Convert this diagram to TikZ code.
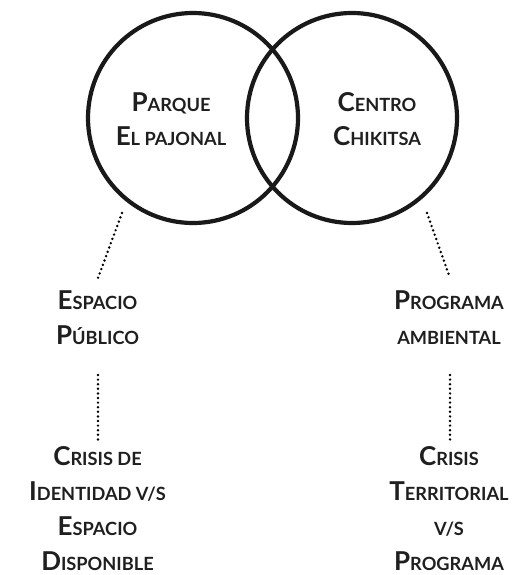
\documentclass[tikz,border=0pt]{standalone}
\usepackage{fontspec}
\setmainfont{Lato}
\newcommand\fsc[2]{{\fontsize{26}{35}\selectfont #1}{\fontsize{18.2}{35}\selectfont #2}}
\newcommand\ssc[1]{{\fontsize{18.2}{35}\selectfont #1}}
\begin{document}
\begin{tikzpicture}[x=1pt,y=-1pt,
  ring/.style={draw=black!90,line width=4.2pt},
  lbl/.style={align=center,inner sep=0pt,anchor=base,text=black!88,font=\fontsize{26}{35}\selectfont\bfseries},
  dots/.style={line width=2.7pt,line cap=round,dash pattern=on 0pt off 4.6pt,black}]
\useasboundingbox (0,0) rectangle (523,575);
\node[ring,circle,minimum size=210pt,inner sep=0pt] (cl) at (193,118) {};
\node[ring,circle,minimum size=210pt,inner sep=0pt] (cr) at (352,118) {};
\node[lbl] (parque) at (171,146) {\fsc{P}{ARQUE}\\\fsc{E}{L PAJONAL}};
\node[lbl] (centro) at (377,146) {\fsc{C}{ENTRO}\\\fsc{C}{HIKITSA}};
\node[lbl] (espacio) at (97.5,344) {\fsc{E}{SPACIO}\\\fsc{P}{ÚBLICO}};
\node[lbl] (programa) at (449,344) {\fsc{P}{ROGRAMA}\\\ssc{AMBIENTAL}};
\node[lbl] (crisisl) at (97.5,570) {\fsc{C}{RISIS DE}\\\fsc{I}{DENTIDAD V/S}\\\fsc{E}{SPACIO}\\\fsc{D}{ISPONIBLE}};
\node[lbl] (crisisr) at (449,570) {\fsc{C}{RISIS}\\\fsc{T}{ERRITORIAL}\\\ssc{V/S}\\\fsc{P}{ROGRAMA}};
\coordinate (a1) at (122,213); \coordinate (a2) at (98,278);
\coordinate (b1) at (427,213); \coordinate (b2) at (450,278);
\coordinate (c1) at (98,375); \coordinate (c2) at (98,441);
\coordinate (d1) at (450,375); \coordinate (d2) at (450,441);
\draw[dots] (a1) -- (a2);
\draw[dots] (b1) -- (b2);
\draw[dots] (c1) -- (c2);
\draw[dots] (d1) -- (d2);
\end{tikzpicture}
\end{document}
